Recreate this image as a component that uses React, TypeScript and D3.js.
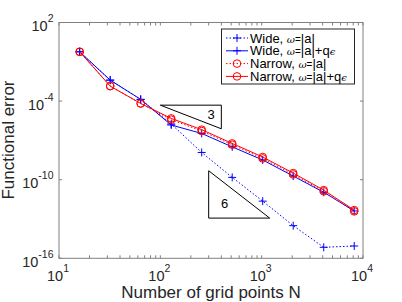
import React from "react";
import * as d3 from "d3";

// grid sizes on the x axis
const gridPoints = [16, 32, 64, 128, 256, 512, 1024, 2048, 4096, 8192];

// functional error per series
const wideAbs = [5.8e-1, 4.0e-3, 1.35e-4, 1.8e-6, 1.2e-8, 1.5e-10, 2.3e-12, 3.1e-14, 6.9e-16, 8.7e-16];
const wideAbsQ = [5.8e-1, 4.0e-3, 1.35e-4, 1.5e-6, 3.4e-7, 3.2e-8, 3.2e-9, 1.9e-10, 1.1e-11, 4.1e-13];
const narrowAbs = [5.8e-1, 1.4e-3, 6.6e-5, 3.8e-6, 5.2e-7, 4.7e-8, 4.2e-9, 2.5e-10, 1.3e-11, 3.8e-13];
const narrowAbsQ = [5.8e-1, 1.4e-3, 6.6e-5, 4.8e-6, 6.6e-7, 5.9e-8, 5.4e-9, 3.2e-10, 1.6e-11, 4.8e-13];

// tick values
const xMajorTicks = [1e1, 1e2, 1e3, 1e4];
const xTickExp = ["1", "2", "3", "4"];
const yMajorTicks = [1e2, 1e-4, 1e-10, 1e-16];
const yTickExp = ["2", "-4", "-10", "-16"];

// slope triangles: [x, y] corners
const slope3 = [[100, 4.9e-5], [400, 4.9e-5], [400, 7.7e-7]];
const slope6 = [[300, 4.8e-10], [300, 1.17e-13], [1200, 1.17e-13]];

const series = [
  { name: "Wide, ", tail: "", values: wideAbs, color: "#0000ff", dash: "1.5,2", marker: "plus" },
  { name: "Wide, ", tail: "+q", values: wideAbsQ, color: "#0000ff", dash: null, marker: "plus" },
  { name: "Narrow, ", tail: "", values: narrowAbs, color: "#ff0000", dash: "1.5,2", marker: "circle" },
  { name: "Narrow, ", tail: "+q", values: narrowAbsQ, color: "#ff0000", dash: null, marker: "circle" },
];

const font = "'Liberation Sans', Arial, Helvetica, sans-serif";

const Marker = ({ type, x, y, color }: { type: string; x: number; y: number; color: string }) =>
  type === "plus" ? (
    <path d={`M${x - 4},${y}H${x + 4}M${x},${y - 4}V${y + 4}`} stroke={color} strokeWidth={1} fill="none" />
  ) : (
    <circle cx={x} cy={y} r={3.8} stroke={color} strokeWidth={1} fill="none" />
  );

export default function App() {
  const width = 402;
  const height = 302;
  const left = 59, right = 363, top = 22.5, bottom = 258.3;

  const x = d3.scaleLog().domain([10, 1e4]).range([left, right]);
  const y = d3.scaleLog().domain([1e-16, 1e2]).range([bottom, top]);

  const line = d3
    .line<[number, number]>()
    .x((d) => x(d[0]))
    .y((d) => y(d[1]));

  // minor x ticks 2..9 per decade
  const xMinor: number[] = [];
  [10, 100, 1000].forEach((dec) => {
    for (let k = 2; k <= 9; k++) xMinor.push(dec * k);
  });

  const axisColor = "#808080";
  const tl = 3; // tick length

  return (
    <svg
      width={width}
      height={height}
      style={{ position: "absolute", left: 0, top: 0, background: "#fff" }}
      fontFamily={font}
    >
      <rect x={0} y={0} width={width} height={height} fill="#fff" />

      {/* series */}
      {series.map((s, i) => {
        const pts = gridPoints.map((n, j) => [n, s.values[j]] as [number, number]);
        return (
          <g key={i}>
            <path
              d={line(pts) || ""}
              fill="none"
              stroke={s.color}
              strokeWidth={1}
              strokeDasharray={s.dash || undefined}
            />
            {pts.map((p, j) => (
              <Marker key={j} type={s.marker} x={x(p[0])} y={y(p[1])} color={s.color} />
            ))}
          </g>
        );
      })}

      {/* slope triangles */}
      <path d={(line(slope3 as [number, number][]) || "") + "Z"} fill="none" stroke="#000" strokeWidth={1} />
      <text x={211} y={119} fontSize={13} textAnchor="middle" fill="#000">3</text>
      <path d={(line(slope6 as [number, number][]) || "") + "Z"} fill="none" stroke="#000" strokeWidth={1} />
      <text x={224.5} y={207.5} fontSize={13} textAnchor="middle" fill="#000">6</text>

      {/* axes box */}
      <rect x={left} y={top} width={right - left} height={bottom - top} fill="none" stroke={axisColor} strokeWidth={1} />

      {/* x ticks */}
      {[...xMajorTicks, ...xMinor].map((t, i) => (
        <g key={"xt" + i} stroke={axisColor} strokeWidth={1}>
          <line x1={x(t)} x2={x(t)} y1={bottom} y2={bottom - tl} />
          <line x1={x(t)} x2={x(t)} y1={top} y2={top + tl} />
        </g>
      ))}
      {xMajorTicks.map((t, i) => (
        <text key={"xl" + i} x={x(t) - 1} y={281} fontSize={14.5} textAnchor="middle" fill="#262626">
          10<tspan dy={-9} fontSize={10.5}>{xTickExp[i]}</tspan>
        </text>
      ))}

      {/* y ticks */}
      {yMajorTicks.map((t, i) => (
        <g key={"yt" + i} stroke={axisColor} strokeWidth={1}>
          <line x1={left} x2={left + tl} y1={y(t)} y2={y(t)} />
          <line x1={right} x2={right - tl} y1={y(t)} y2={y(t)} />
        </g>
      ))}
      {yMajorTicks.map((t, i) => (
        <text key={"yl" + i} x={53.5} y={y(t) + 8.5} fontSize={14.5} textAnchor="end" fill="#262626">
          10<tspan dy={-9} fontSize={10.5}>{yTickExp[i]}</tspan>
        </text>
      ))}

      {/* axis labels */}
      <text x={211} y={298} fontSize={17} textAnchor="middle" fill="#262626">
        Number of grid points N
      </text>
      <text
        transform={`translate(13.5,140) rotate(-90)`}
        fontSize={17}
        textAnchor="middle"
        fill="#262626"
      >
        Functional error
      </text>

      {/* legend */}
      <rect x={221.5} y={29} width={133} height={55} fill="#fff" stroke="#262626" strokeWidth={1} />
      {series.map((s, i) => {
        const ly = 38 + i * 12.8;
        return (
          <g key={"lg" + i}>
            <line x1={226} x2={248} y1={ly} y2={ly} stroke={s.color} strokeWidth={1} strokeDasharray={s.dash || undefined} />
            <Marker type={s.marker} x={237} y={ly} color={s.color} />
            <text x={250} y={ly + 4.5} fontSize={13} fill="#000">
              {s.name}
              <tspan fontFamily="'DejaVu Serif', serif" fontStyle="italic" fontSize={10}>ω</tspan>
              <tspan fontSize={10}>=</tspan>|a|{s.tail}
              {s.tail ? (
                <tspan fontFamily="'DejaVu Serif', serif" fontStyle="italic" fontSize={10}>ϵ</tspan>
              ) : null}
            </text>
          </g>
        );
      })}
    </svg>
  );
}
